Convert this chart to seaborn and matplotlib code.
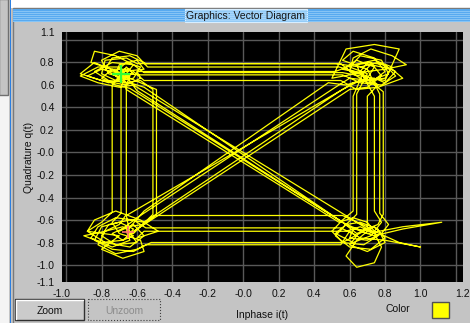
import matplotlib
matplotlib.use("Agg")
import matplotlib.pyplot as plt
from matplotlib.patches import Rectangle
import pandas as pd
import seaborn as sns

# ---- trajectory samples (I, Q), visit by visit ----
inphase = [
    -0.69, -0.80, -0.88, -0.76, -0.62, -0.58, -0.66, -0.72, -0.84, -0.92, -0.80, -0.66, -0.58, -0.60,
    0.52, 0.62, 0.74, 0.84, 0.80, 0.68, 0.62, 0.55,
    -0.55, -0.64, -0.74, -0.78, -0.70, -0.62, -0.66, -0.74,
    -0.74, -0.80, -0.88, -0.78, -0.64, -0.56, -0.62, -0.70, -0.60,
    0.52, 0.60, 0.72, 0.82, 0.78, 0.66, 0.60, 0.70, 0.64,
    0.64, 0.58, 0.52, 0.60, 0.72, 0.80, 0.74, 0.64, 0.56,
    -0.56, -0.64, -0.76, -0.84, -0.74, -0.62, -0.66, -0.58,
    0.56, 0.66, 0.78, 0.86, 0.80, 0.70, 0.66, 0.74,
    0.74, 0.78, 0.72, 0.62, 0.52, 0.58, 0.68, 0.56,
    -0.52, -0.60, -0.72, -0.82, -0.78, -0.68, -0.62, -0.51,
    -0.51, -0.58, -0.66, -0.72, -0.70, -0.60, -0.56, -0.68, -0.60,
    0.58, 0.66, 0.76, 0.80, 0.70, 0.60, 0.64, 0.55,
    -0.55, -0.62, -0.72, -0.82, -0.86, -0.74, -0.64, -0.66, -0.56,
    0.48, 0.58, 0.70, 0.74, 0.64, 0.56, 0.68, 0.54,
    -0.54, -0.60, -0.70, -0.80, -0.76, -0.66, -0.62, -0.56,
    0.55, 0.64, 0.76, 0.90, 0.84, 0.72, 0.68, 0.62,
    0.62, 0.56, 0.50, 0.56, 0.68, 0.76, 0.70, 0.56,
    -0.50, -0.56, -0.64, -0.76, -0.80, -0.72, -0.60, -0.64, -0.66,
    0.56, 0.66, 0.72, 0.80, 0.74, 0.62, 0.56, 0.70, 0.77,
    0.77, 0.82, 0.78, 0.70, 0.60, 0.62, 0.72, 0.62,
    -0.62, -0.70, -0.82, -0.92, -0.82, -0.70, -0.66, -0.69,
    -0.69, -0.74, -0.70, -0.58, -0.56, -0.68, -0.80, -0.70, -0.88, -0.84, -0.72, -0.58, -0.48, -0.60, -0.56,
    0.58, 0.66, 0.74, 0.78, 0.74, 0.64, 0.58, 0.64, 0.70, 0.70,
    0.70, 0.76, 0.70, 0.60, 0.62, 0.72, 0.84, 0.92, 0.80, 0.70, 0.50, 0.58, 0.74, 0.88, 0.80, 0.56,
    -0.56, -0.62, -0.72, -0.84, -0.86, -0.74, -0.68, -0.66,
    0.54, 0.62, 0.70, 0.74, 0.88, 1.00, 0.80, 0.66, 0.60, 0.55,
    -0.55, -0.62, -0.74, -0.84, -0.80, -0.70, -0.62, -0.66, -0.54,
    0.54, 0.62, 0.74, 0.80, 0.86, 0.76, 0.66, 0.52,
    -0.60, -0.66, -0.78, -0.80, -0.72, -0.64, -0.66,
    -0.66, -0.70, -0.78, -0.90, -0.80, -0.68, -0.62, -0.52,
    0.60, 0.70, 0.78, 0.72, 0.64, 0.66, 0.79,
    0.79, 0.76, 0.66, 0.74, 0.90, 1.12, 0.90, 0.70, 0.60,
    -0.64, -0.72, -0.80, -0.74, -0.64, -0.70, -0.49,
    -0.49, -0.56, -0.66, -0.74, -0.68, -0.62, -0.65,
]
quadrature = [
    0.70, 0.74, 0.68, 0.62, 0.66, 0.76, 0.80, 0.72, 0.80, 0.70, 0.64, 0.60, 0.66, 0.72,
    0.72, 0.78, 0.82, 0.76, 0.66, 0.64, 0.70, 0.79,
    0.79, 0.86, 0.84, 0.74, 0.66, 0.70, 0.76, 0.60,
    -0.53, -0.62, -0.70, -0.80, -0.84, -0.74, -0.64, -0.70, -0.58,
    0.58, 0.66, 0.64, 0.70, 0.82, 0.86, 0.76, 0.70, 0.52,
    -0.55, -0.64, -0.74, -0.84, -0.86, -0.76, -0.66, -0.72, -0.62,
    0.58, 0.62, 0.64, 0.72, 0.80, 0.78, 0.70, 0.69,
    0.69, 0.62, 0.60, 0.68, 0.78, 0.80, 0.72, 0.50,
    -0.52, -0.62, -0.74, -0.80, -0.72, -0.64, -0.70, -0.80,
    -0.80, -0.86, -0.90, -0.82, -0.70, -0.66, -0.72, -0.55,
    0.56, 0.64, 0.62, 0.68, 0.78, 0.82, 0.74, 0.72, 0.55,
    -0.64, -0.62, -0.68, -0.80, -0.88, -0.82, -0.74, -0.67,
    -0.67, -0.60, -0.58, -0.66, -0.76, -0.84, -0.78, -0.70, -0.52,
    0.62, 0.60, 0.66, 0.76, 0.82, 0.74, 0.70, 0.76,
    0.76, 0.86, 0.90, 0.82, 0.70, 0.66, 0.72, 0.64,
    0.64, 0.56, 0.58, 0.66, 0.74, 0.78, 0.72, 0.50,
    -0.52, -0.60, -0.70, -0.80, -0.82, -0.74, -0.66, -0.56,
    -0.56, -0.62, -0.60, -0.64, -0.74, -0.82, -0.80, -0.72, -0.56,
    0.56, 0.64, 0.62, 0.72, 0.84, 0.90, 0.82, 0.74, 0.52,
    -0.54, -0.64, -0.72, -0.78, -0.76, -0.68, -0.70, -0.60,
    0.60, 0.58, 0.62, 0.68, 0.76, 0.76, 0.68, 0.58,
    -0.54, -0.62, -0.72, -0.78, -0.88, -0.94, -0.86, -0.74, -0.70, -0.60, -0.52, -0.60, -0.70, -0.76, -0.70,
    -0.70, -0.66, -0.72, -0.84, -0.98, -1.02, -0.92, -0.78, -0.70, -0.52,
    0.50, 0.60, 0.68, 0.72, 0.84, 0.92, 0.86, 0.78, 0.74, 0.72, 0.66, 0.92, 0.96, 0.92, 0.64, 0.71,
    0.71, 0.78, 0.86, 0.90, 0.80, 0.74, 0.70, 0.56,
    -0.62, -0.58, -0.62, -0.70, -0.80, -0.84, -0.78, -0.76, -0.70, -0.82,
    -0.82, -0.88, -0.86, -0.78, -0.66, -0.62, -0.68, -0.76, -0.60,
    0.54, 0.62, 0.66, 0.62, 0.72, 0.80, 0.76, 0.79,
    0.79, 0.84, 0.82, 0.70, 0.64, 0.68, 0.60,
    -0.55, -0.64, -0.70, -0.74, -0.80, -0.78, -0.70, -0.60,
    0.56, 0.58, 0.68, 0.80, 0.78, 0.70, 0.54,
    -0.55, -0.64, -0.70, -0.74, -0.68, -0.62, -0.66, -0.72, -0.66,
    0.57, 0.60, 0.66, 0.74, 0.74, 0.70, 0.56,
    -0.55, -0.64, -0.66, -0.72, -0.78, -0.74, -0.71,
]

x_tick_values = [-1.026, -0.8, -0.6, -0.4, -0.2, 0.0, 0.2, 0.4, 0.6, 0.8, 1.0, 1.24]
x_tick_labels = ["-1.0", "-0.8", "-0.6", "-0.4", "-0.2", "-0.0", "0.2", "0.4",
                 "0.6", "0.8", "1.0", "1.2"]
y_tick_values = [-1.151, -1.0, -0.8, -0.6, -0.4, -0.2, 0.0, 0.2, 0.4, 0.6, 0.8, 1.071]
y_tick_labels = ["-1.1", "-1.0", "-0.8", "-0.6", "-0.4", "-0.2", "-0.0", "0.2",
                 "0.4", "0.6", "0.8", "1.1"]
x_grid = [-1.0, -0.8, -0.6, -0.4, -0.2, 0.0, 0.2, 0.4, 0.6, 0.8, 1.0, 1.2]
y_grid = [-1.0, -0.8, -0.6, -0.4, -0.2, 0.0, 0.2, 0.4, 0.6, 0.8, 1.0]

df = pd.DataFrame({"i": inphase, "q": quadrature})

sns.set_style("white")
plt.rcParams["font.family"] = ["Liberation Sans", "DejaVu Sans"]

W, H = 470, 323
PANEL = "#c4c4c4"
fig = plt.figure(figsize=(W / 100, H / 100), dpi=100)
fig.patch.set_facecolor(PANEL)

# ---- window chrome, drawn in pixel coordinates ----
bg = fig.add_axes([0, 0, 1, 1], zorder=0)
bg.set_xlim(0, W)
bg.set_ylim(H, 0)
bg.axis("off")


def rect(x, y, w, h, **kw):
    bg.add_patch(Rectangle((x, y), w, h, **kw))


rect(0, 0, W, H, fc=PANEL, ec="none")
rect(10, 0, W - 10, 8, fc="white", ec="none")
rect(0, 95, 9, H - 95, fc="#f4f4f4", ec="none")
rect(-1, -1, 9, 96, fc=PANEL, ec="#707070", lw=1)
rect(9.5, 0, 1.6, H, fc="#2c7fe0", ec="none")
rect(12.5, 8, W - 12, H - 7, fc=PANEL, ec="#7a7a7a", lw=1)
rect(13, 9, W - 13, 13, fc="#58aaf0", ec="none")
for yy in (10.5, 12.5, 14.5, 16.5, 18.5, 20.5):
    bg.plot([13, W], [yy, yy], color="#8fcaf7", lw=0.6)
rect(185, 9, 122, 13, fc="#a6d5fa", ec="#d8eeff", lw=0.8)
bg.text(246, 15.8, "Graphics: Vector Diagram", ha="center", va="center",
        fontsize=7.5, color="#151515")

# buttons
rect(15, 299, 69, 21, fc="#cbcbcb", ec="#303030", lw=1)
bg.plot([16, 83], [300, 300], color="white", lw=1)
bg.plot([16, 16], [300, 319], color="white", lw=1)
bg.text(49.5, 310.5, "Zoom", ha="center", va="center", fontsize=7.5, color="#101010")
rect(88, 299, 72, 21, fc=PANEL, ec="#404040", lw=0.8, ls=":")
bg.text(124, 310.5, "Unzoom", ha="center", va="center", fontsize=7.5, color="#8c8c8c")

bg.text(398, 309.5, "Color", ha="center", va="center", fontsize=7.5, color="#101010")
rect(432, 302, 17, 16, fc="#ffff00", ec="#505050", lw=1)

# ---- plot area ----
left, right, top, bottom = 61.5, 463, 32, 282
ax = fig.add_axes([left / W, 1 - bottom / H, (right - left) / W, (bottom - top) / H],
                  zorder=2)
ax.set_facecolor("black")

for gx in x_grid:
    ax.axvline(gx, color="#595959", lw=1, zorder=0)
for gy in y_grid:
    ax.axhline(gy, color="#595959", lw=1, zorder=0)

sns.lineplot(data=df, x="i", y="q", sort=False, estimator=None,
             color="#ffff00", lw=0.9, ax=ax, zorder=2)
sns.scatterplot(x=[inphase[0]], y=[quadrature[0]], marker="+", s=160,
                color="#33ff33", linewidth=1.6, ax=ax, zorder=3)
sns.scatterplot(x=[inphase[-1]], y=[quadrature[-1]], marker="+", s=70,
                color="#ff7070", linewidth=1.2, ax=ax, zorder=3)

ax.set_xlim(x_tick_values[0], x_tick_values[-1])
ax.set_ylim(y_tick_values[0], y_tick_values[-1])
ax.set_xticks(x_tick_values)
ax.set_xticklabels(x_tick_labels)
ax.set_yticks(y_tick_values)
ax.set_yticklabels(y_tick_labels)
ax.tick_params(axis="both", direction="out", length=3.5, width=0.8, color="#202020",
               labelsize=7.5, labelcolor="#101010", pad=1.5)
for s in ax.spines.values():
    s.set_visible(False)

ax.set_xlabel("Inphase i(t)", fontsize=7.5, color="#101010", labelpad=8)
ax.set_ylabel("Quadrature q(t)", fontsize=7.5, color="#101010", labelpad=2)

fig.savefig("out.png", dpi=100, facecolor=fig.get_facecolor())
